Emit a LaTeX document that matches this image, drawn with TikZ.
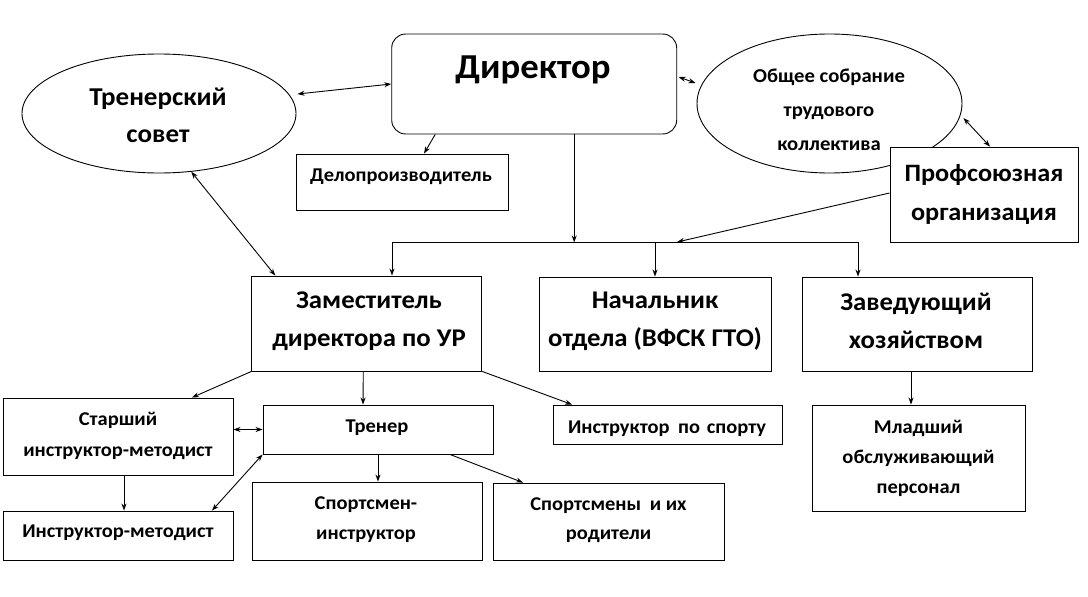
\documentclass[tikz,border=0pt]{standalone}
\usepackage{fontspec}
\setmainfont[FakeStretch=1.05]{Carlito}
\usetikzlibrary{arrows.meta,shapes.geometric}
\begin{document}
\begin{tikzpicture}[x=1pt,y=-1pt,line width=0.9pt,
  box/.style={draw,rectangle,fill=white,inner sep=0pt},
  oval/.style={draw,ellipse,inner sep=0pt},
  lbl/.style={align=center,inner sep=0pt,font=\bfseries\fontsize{19.5}{30}\selectfont},
  biglbl/.style={lbl,font=\bfseries\fontsize{25.5}{38}\selectfont},
  arr/.style={-{Stealth[length=7pt,width=5pt]}},
  darr/.style={{Stealth[length=7pt,width=5pt]}-{Stealth[length=7pt,width=5pt]}}]
\useasboundingbox (0,0) rectangle (1088,597);
% ---- top level
\node[draw,rounded corners=14pt,minimum width=285pt,minimum height=100pt,inner sep=0pt] (dir) at (534.2,84) {};
\node[lbl,anchor=base,font=\bfseries\fontsize{35}{40}\selectfont] (dirt) at (533,78) {Директор};
\node[oval,minimum width=274pt,minimum height=119pt] (ts) at (159,113.5) {};
\node[biglbl,font=\bfseries\fontsize{25.7}{37}\selectfont] (tst) at (158,115) {Тренерский\\совет};
\node[oval,minimum width=265pt,minimum height=139pt] (ob) at (829.5,103.5) {};
\node[lbl,font=\bfseries\fontsize{19.7}{34}\selectfont] (obt) at (829,110) {Общее собрание\\трудового\\коллектива};
\node[box,minimum width=212pt,minimum height=56pt] (delo) at (402,182) {};
\node[lbl,anchor=base] (delot) at (401,181) {Делопроизводитель};
\node[box,minimum width=188pt,minimum height=95pt] (prof) at (984,194.5) {};
\node[biglbl,font=\bfseries\fontsize{25}{39}\selectfont] (proft) at (984,194.5) {Профсоюзная\\организация};
% ---- second level
\node[box,minimum width=230pt,minimum height=95pt] (zam) at (366.8,323.5) {};
\node[biglbl] (zamt) at (369,321) {Заместитель\\директора по УР};
\node[box,minimum width=232pt,minimum height=94pt] (nach) at (655,324) {};
\node[biglbl] (nacht) at (655,321) {Начальник\\отдела (ВФСК ГТО)};
\node[box,minimum width=230pt,minimum height=94pt] (zav) at (917,324) {};
\node[biglbl] (zavt) at (916,321) {Заведующий\\хозяйством};
% ---- third level
\node[box,minimum width=230pt,minimum height=77pt] (st) at (118,436.5) {};
\node[lbl,font=\bfseries\fontsize{19.5}{31}\selectfont] (stt) at (118,435.5) {Старший\\инструктор-методист};
\node[box,minimum width=230pt,minimum height=49pt] (tr) at (378,429.5) {};
\node[lbl,anchor=base] (trt) at (377,432) {Тренер};
\node[box,minimum width=229pt,minimum height=39pt] (isp) at (667.5,424.5) {};
\node[lbl,anchor=base] (ispt) at (667,433) {Инструктор\hspace{4pt} по\hspace{2pt} спорту};
\node[box,minimum width=213pt,minimum height=106pt] (ml) at (918.5,458) {};
\node[lbl] (mlt) at (918.5,458) {Младший\\обслуживающий\\персонал};
\node[box,minimum width=230pt,minimum height=49pt] (im) at (118,535.5) {};
\node[lbl,anchor=base] (imt) at (118,537) {Инструктор-методист};
\node[box,minimum width=230pt,minimum height=78pt] (si) at (367,521) {};
\node[lbl] (sit) at (366,520) {Спортсмен-\\инструктор};
\node[box,minimum width=231pt,minimum height=77pt] (sp) at (608.5,521.5) {};
\node[lbl,font=\bfseries\fontsize{19.5}{29}\selectfont] (spt) at (608.5,520.5) {Спортсмены\hspace{4pt} и их\\родители};
% ---- bus
\coordinate (b1) at (392,242);
\coordinate (b3) at (858,242);
% ---- connectors
\draw[darr] ([xshift=1pt,yshift=19.5pt]ts.east) -- (dir.west);
\draw[arr] ([xshift=-99pt]dir.south) -- ([xshift=22pt]delo.north);
\draw[darr] ([xshift=1.5pt,yshift=7pt]dir.east) -- ([xshift=-1pt,yshift=20.5pt]ob.west);
\draw[darr] ([xshift=1pt,yshift=-14.5pt]ob.east) -- ([xshift=6pt]prof.north);
\draw[darr] (ts.-61) -- ([xshift=-91.5pt]zam.north);
\draw[arr] ([xshift=40pt]dir.south) -- ++(0,108);
\draw (b1) -- (b3);
\draw[arr] ([yshift=1.5pt]prof.west) -- (b1 -| dir.east);
\draw[arr] (b1) -- (b1 |- zam.north);
\draw[arr] (b1 -| nach.north) -- (nach.north);
\draw[arr] (b3) -- (b3 |- zav.north);
\draw[arr] (zam.south west) -- ([xshift=74pt]st.north);
\draw[arr] ([xshift=-3.5pt]zam.south) -- ([xshift=-15pt]tr.north);
\draw[arr] (zam.south east) -- ([xshift=-95.5pt]isp.north);
\draw[darr] (st.east |- tr.west) -- (tr.west);
\draw[arr] ([xshift=6pt]st.south) -- ([xshift=6pt]im.north);
\draw[darr] (tr.south west) -- ([xshift=94pt]im.north);
\draw[arr] (tr.south) -- (tr.south |- si.north);
\draw[arr] ([xshift=72pt]tr.south) -- ([xshift=-85.5pt]sp.north);
\draw[arr] ([xshift=-6pt]zav.south) -- ([xshift=-6pt]zav.south |- ml.north);
\end{tikzpicture}
\end{document}
